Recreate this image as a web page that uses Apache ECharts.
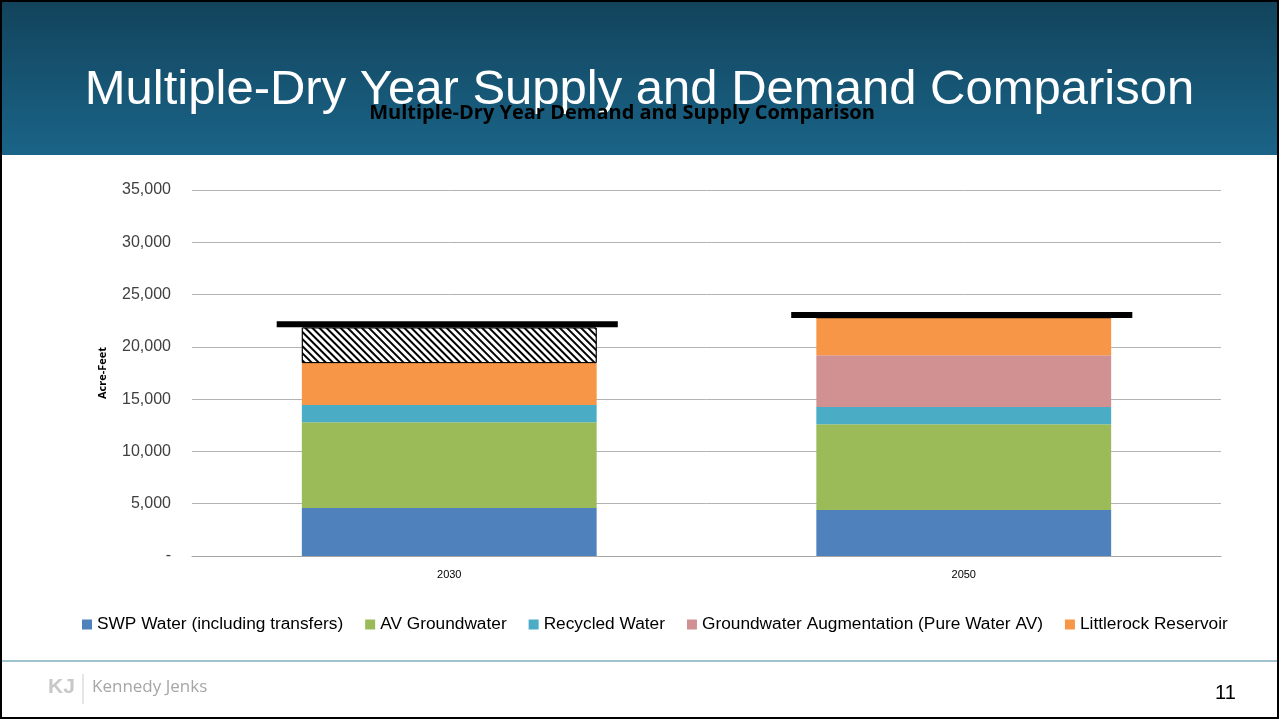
<!DOCTYPE html>
<html><head><meta charset="utf-8">
<script src="https://cdn.jsdelivr.net/npm/echarts@6/dist/echarts.min.js"></script>
<style>html,body{margin:0;padding:0;background:#fff}#c{width:1279px;height:719px}</style>
</head><body><div id="c"></div>
<script>
const categories = ['2030', '2050'];
const swpWater = [4600, 4400];
const avGroundwater = [8200, 8200];
const recycledWater = [1650, 1650];
const gwAugmentation = [0, 4950];
const littlerock = [4000, 3600];
const unmetGap = [3400, 0];
const demand = [22150, 23050];
const seriesNames = ['SWP Water (including transfers)', 'AV Groundwater', 'Recycled Water', 'Groundwater Augmentation (Pure Water AV)', 'Littlerock Reservoir'];
const seriesColors = ['#4f81bd', '#9bbb59', '#4bacc6', '#d19192', '#f79646'];
const yTicks = [0, 5000, 10000, 15000, 20000, 25000, 30000, 35000];

const chart = echarts.init(document.getElementById('c'));
const stackData = [swpWater, avGroundwater, recycledWater, gwAugmentation, littlerock];
const series = stackData.map((d, i) => ({
  name: seriesNames[i], type: 'bar', stack: 'supply', barWidth: '57.3%',
  itemStyle: {color: seriesColors[i]}, data: d, animation: false
}));
series.push({
  name: 'Gap', type: 'bar', stack: 'supply', data: unmetGap,
  itemStyle: {color: '#ffffff', borderColor: '#000', borderWidth: 1,
    decal: {symbol: 'rect', color: '#000', backgroundColor: '#fff', dashArrayX: [1, 0], dashArrayY: [2, 3], rotation: Math.PI / 4, symbolSize: 1}}
});
series.push({
  name: 'Demand', type: 'custom',
  data: categories.map((c, i) => [i, demand[i]]),
  renderItem: function (params, api) {
    const p = api.coord([api.value(0), api.value(1)]);
    const w = api.size([1, 0])[0] * 0.663;
    return {type: 'rect', shape: {x: p[0] - w / 2 - 2, y: p[1] - 3, width: w, height: 6}, style: {fill: '#000'}};
  },
  z: 10
});

chart.setOption({
  animation: false,
  graphic: [
    {type: 'rect', shape: {x: 0, y: 0, width: 1279, height: 155}, z: -10,
      style: {fill: new echarts.graphic.LinearGradient(0, 0, 0, 1, [{offset: 0, color: '#12435b'}, {offset: 1, color: '#1a6488'}])}},
    {type: 'text', left: 'center', top: 66, z: 5, style: {text: 'Multiple-Dry Year Supply and Demand Comparison', fill: '#fff', font: '49px "Liberation Sans", Arial, sans-serif'}},
    {type: 'line', shape: {x1: 0, y1: 661, x2: 1279, y2: 661}, style: {stroke: '#9cc3cf', lineWidth: 2}},
    {type: 'text', left: 48, top: 677, style: {text: 'KJ', fill: '#c8c8c8', font: 'bold 21px "Liberation Sans", sans-serif'}},
    {type: 'line', shape: {x1: 83, y1: 674, x2: 83, y2: 704}, style: {stroke: '#cccccc', lineWidth: 1}},
    {type: 'text', left: 92, top: 679, style: {text: 'Kennedy Jenks', fill: '#a6a6a6', font: '17px "Open Sans", sans-serif'}},
    {type: 'text', left: 1215, top: 683, style: {text: '11', fill: '#000', font: '20px "Liberation Sans", sans-serif'}},
    {type: 'rect', shape: {x: 1, y: 1, width: 1277, height: 717}, z: 100, style: {fill: 'none', stroke: '#000', lineWidth: 2}}
  ],
  title: {text: 'Multiple-Dry Year Demand and Supply Comparison', left: 617, textAlign: 'center', top: 98,
    textStyle: {fontFamily: '"Open Sans", sans-serif', fontWeight: 'bold', fontSize: 20, color: '#000'}},
  legend: {data: seriesNames, bottom: 81, left: 77, itemWidth: 10, itemHeight: 10, itemGap: 22, icon: 'rect',
    textStyle: {fontFamily: '"Liberation Sans", sans-serif', fontSize: 17.3, color: '#000'}},
  grid: {left: 192, right: 58, top: 190, bottom: 163},
  xAxis: {type: 'category', data: categories,
    axisLine: {lineStyle: {color: '#a6a6a6'}}, axisTick: {show: false},
    axisLabel: {fontSize: 11, color: '#000', margin: 13, fontFamily: '"Liberation Sans", sans-serif'}},
  yAxis: {type: 'value', min: 0, max: 35000, interval: 5000, name: 'Acre-Feet', nameLocation: 'middle', nameGap: 84, nameRotate: 90,
    nameTextStyle: {fontSize: 11, fontWeight: 'bold', color: '#000', fontFamily: '"Open Sans", sans-serif'},
    axisLabel: {fontSize: 16, color: '#404040', margin: 21, fontFamily: '"Liberation Sans", sans-serif',
      formatter: v => v === 0 ? '-' : v.toLocaleString('en-US')},
    splitLine: {lineStyle: {color: '#b3b3b3'}}, axisLine: {show: false}, axisTick: {show: false}},
  series: series
});
</script></body></html>
